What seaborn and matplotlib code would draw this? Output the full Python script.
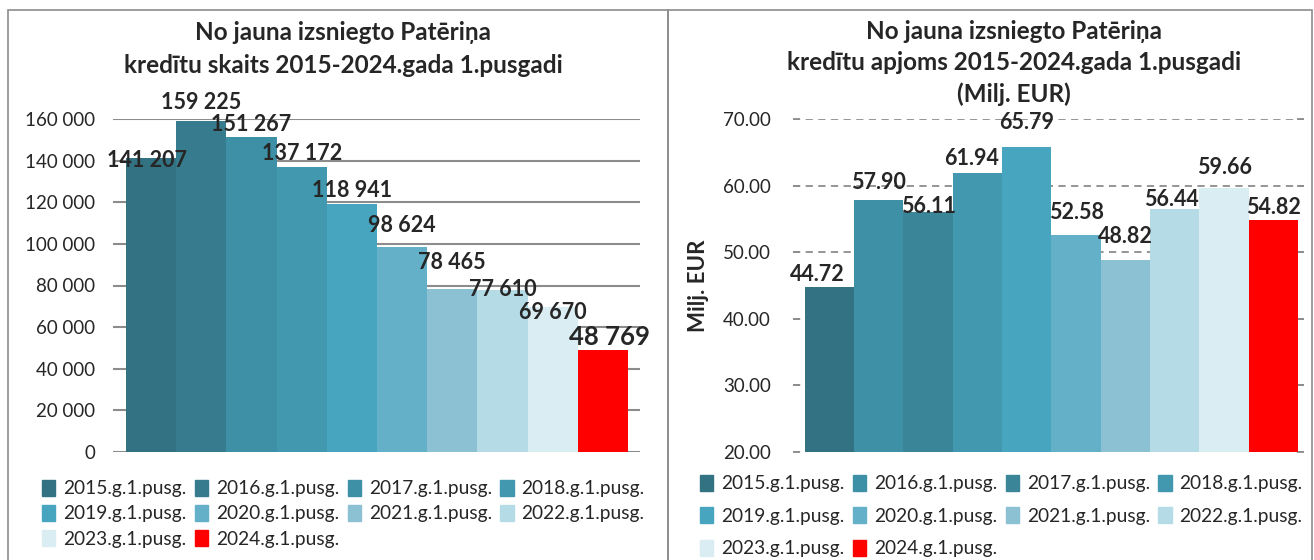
import seaborn as sns
import matplotlib.pyplot as plt
import pandas as pd
import numpy as np
from matplotlib.patches import Patch, Rectangle

sns.set_style("white")
plt.rcParams['font.family'] = ['Lato', 'DejaVu Sans']

# data
periods = ['2015.g.1.pusg.', '2016.g.1.pusg.', '2017.g.1.pusg.', '2018.g.1.pusg.',
           '2019.g.1.pusg.', '2020.g.1.pusg.', '2021.g.1.pusg.', '2022.g.1.pusg.',
           '2023.g.1.pusg.', '2024.g.1.pusg.']
loan_count = [141207, 159225, 151267, 137172, 118941, 98624, 78465, 77610, 69670, 48769]
loan_volume = [44.72, 57.90, 56.11, 61.94, 65.79, 52.58, 48.82, 56.44, 59.66, 54.82]

count_ticks = [0, 20000, 40000, 60000, 80000, 100000, 120000, 140000, 160000]
volume_ticks = [20, 30, 40, 50, 60, 70]

colors_left = ['#327282', '#377C8E', '#3E90A6', '#4198AF', '#47A5C0',
               '#64B0C8', '#8BC1D2', '#B5DCE6', '#DAEDF3', '#FF0000']
colors_right = ['#327282', '#3E90A6', '#3A8598', '#4198AF', '#47A5C0',
                '#64B0C8', '#8BC1D2', '#B5DCE6', '#DAEDF3', '#FF0000']

# label nudges in pixels (x, y), as placed in the original
left_nudge = [(-4, 2), (0, -18), (0, -13), (0, -13), (0, -14),
              (0, -21), (0, -26), (0, -1), (0, 6), (7, -13)]
right_nudge = [(-12, -13), (0, -17), (0, -5), (-6, -14), (0, -25),
               (0, -23), (0, -24), (-3, -10), (0, -20), (0, -13)]

df = pd.DataFrame({'period': periods, 'count': loan_count, 'volume': loan_volume})

fig = plt.figure(figsize=(13.14, 5.6), dpi=100)

# panel frames
fig.patches.append(Rectangle((8 / 1314, -0.01), 660 / 1314, 1 - 10 / 560 + 0.01,
                             transform=fig.transFigure, fill=False, ec='#8c8c8c', lw=1.2))
fig.patches.append(Rectangle((668 / 1314, -0.01), 644 / 1314, 1 - 10 / 560 + 0.01,
                             transform=fig.transFigure, fill=False, ec='#8c8c8c', lw=1.2))

ax1 = fig.add_axes([113 / 1314, 1 - 452 / 560, 527 / 1314, 333 / 560])
ax2 = fig.add_axes([793 / 1314, 1 - 452 / 560, 511 / 1314, 333 / 560])


def fmt_space(v):
    return f"{int(v):,}".replace(',', ' ')


def px(p):
    return p * 0.72


# left chart
sns.barplot(data=df, x='period', y='count', hue='period', palette=colors_left,
            width=1.0, saturation=1, legend=False, ax=ax1, zorder=3,
            linewidth=0, edgecolor='none')
ax1.set_xlim(-0.76, 9.74)
ax1.set_ylim(0, 160000)
ax1.set_yticks(count_ticks)
ax1.set_yticklabels([fmt_space(t) for t in count_ticks], fontsize=13.5)
ax1.set_xticks([])
ax1.set_xlabel('')
ax1.set_ylabel('')
ax1.grid(axis='y', color='#8c8c8c', lw=1.5, zorder=0)
for s in ax1.spines.values():
    s.set_visible(False)
ax1.tick_params(axis='y', length=0, pad=13)
for i, v in enumerate(loan_count):
    big = i == len(loan_count) - 1
    dx, dy = left_nudge[i]
    ax1.annotate(fmt_space(v), (i, v), xytext=(px(dx), -px(dy)), textcoords='offset points',
                 ha='center', va='center', fontsize=18.5 if big else 15.5,
                 fontweight='bold', annotation_clip=False, zorder=5)
fig.text(343 / 1314, 1 - 49 / 560,
         'No jauna izsniegto Patēriņa\nkredītu skaits 2015-2024.gada 1.pusgadi',
         ha='center', va='center', fontsize=17.5, fontweight='bold', linespacing=1.5)

# right chart
sns.barplot(data=df, x='period', y='volume', hue='period', palette=colors_right,
            width=1.0, saturation=1, legend=False, ax=ax2, zorder=3,
            linewidth=0, edgecolor='none')
ax2.set_xlim(-0.74, 9.62)
ax2.set_ylim(20, 70)
ax2.set_yticks(volume_ticks)
ax2.set_yticklabels([f"{t:.2f}" for t in volume_ticks], fontsize=13.5)
ax2.set_xticks([])
ax2.set_xlabel('')
ax2.set_ylabel('Milj. EUR', fontsize=16, fontweight='bold', labelpad=10)
ax2.grid(axis='y', color='#8c8c8c', lw=1.3, ls=(0, (4, 3)), zorder=0)
for s in ax2.spines.values():
    s.set_visible(False)
ax2.tick_params(axis='y', length=5, direction='in', left=True, right=True,
                color='#8c8c8c', width=1.3, pad=16)
for i, v in enumerate(loan_volume):
    dx, dy = right_nudge[i]
    ax2.annotate(f"{v:.2f}", (i, v), xytext=(px(dx), -px(dy)), textcoords='offset points',
                 ha='center', va='center', fontsize=15.5,
                 fontweight='bold', annotation_clip=False, zorder=5)
fig.text(1014 / 1314, 1 - 63 / 560,
         'No jauna izsniegto Patēriņa\nkredītu apjoms 2015-2024.gada 1.pusgadi\n(Milj. EUR)',
         ha='center', va='center', fontsize=17.5, fontweight='bold', linespacing=1.45)

# legends (row-major order in 4 columns)
order = [0, 4, 8, 1, 5, 9, 2, 6, 3, 7]
h_left = [Patch(color=colors_left[k], label=periods[k]) for k in order]
h_right = [Patch(color=colors_right[k], label=periods[k]) for k in order]
leg_kw = dict(ncol=4, frameon=False, fontsize=13.8, handlelength=0.7, handleheight=0.9,
              handletextpad=0.4, columnspacing=0.45, loc='upper left', borderaxespad=0)
fig.legend(handles=h_left, bbox_to_anchor=(34 / 1314, 1 - 472 / 560), labelspacing=0.4, **leg_kw)
fig.legend(handles=h_right, bbox_to_anchor=(692 / 1314, 1 - 467 / 560), labelspacing=0.78, **leg_kw)

plt.savefig('out.png')
plt.close()
